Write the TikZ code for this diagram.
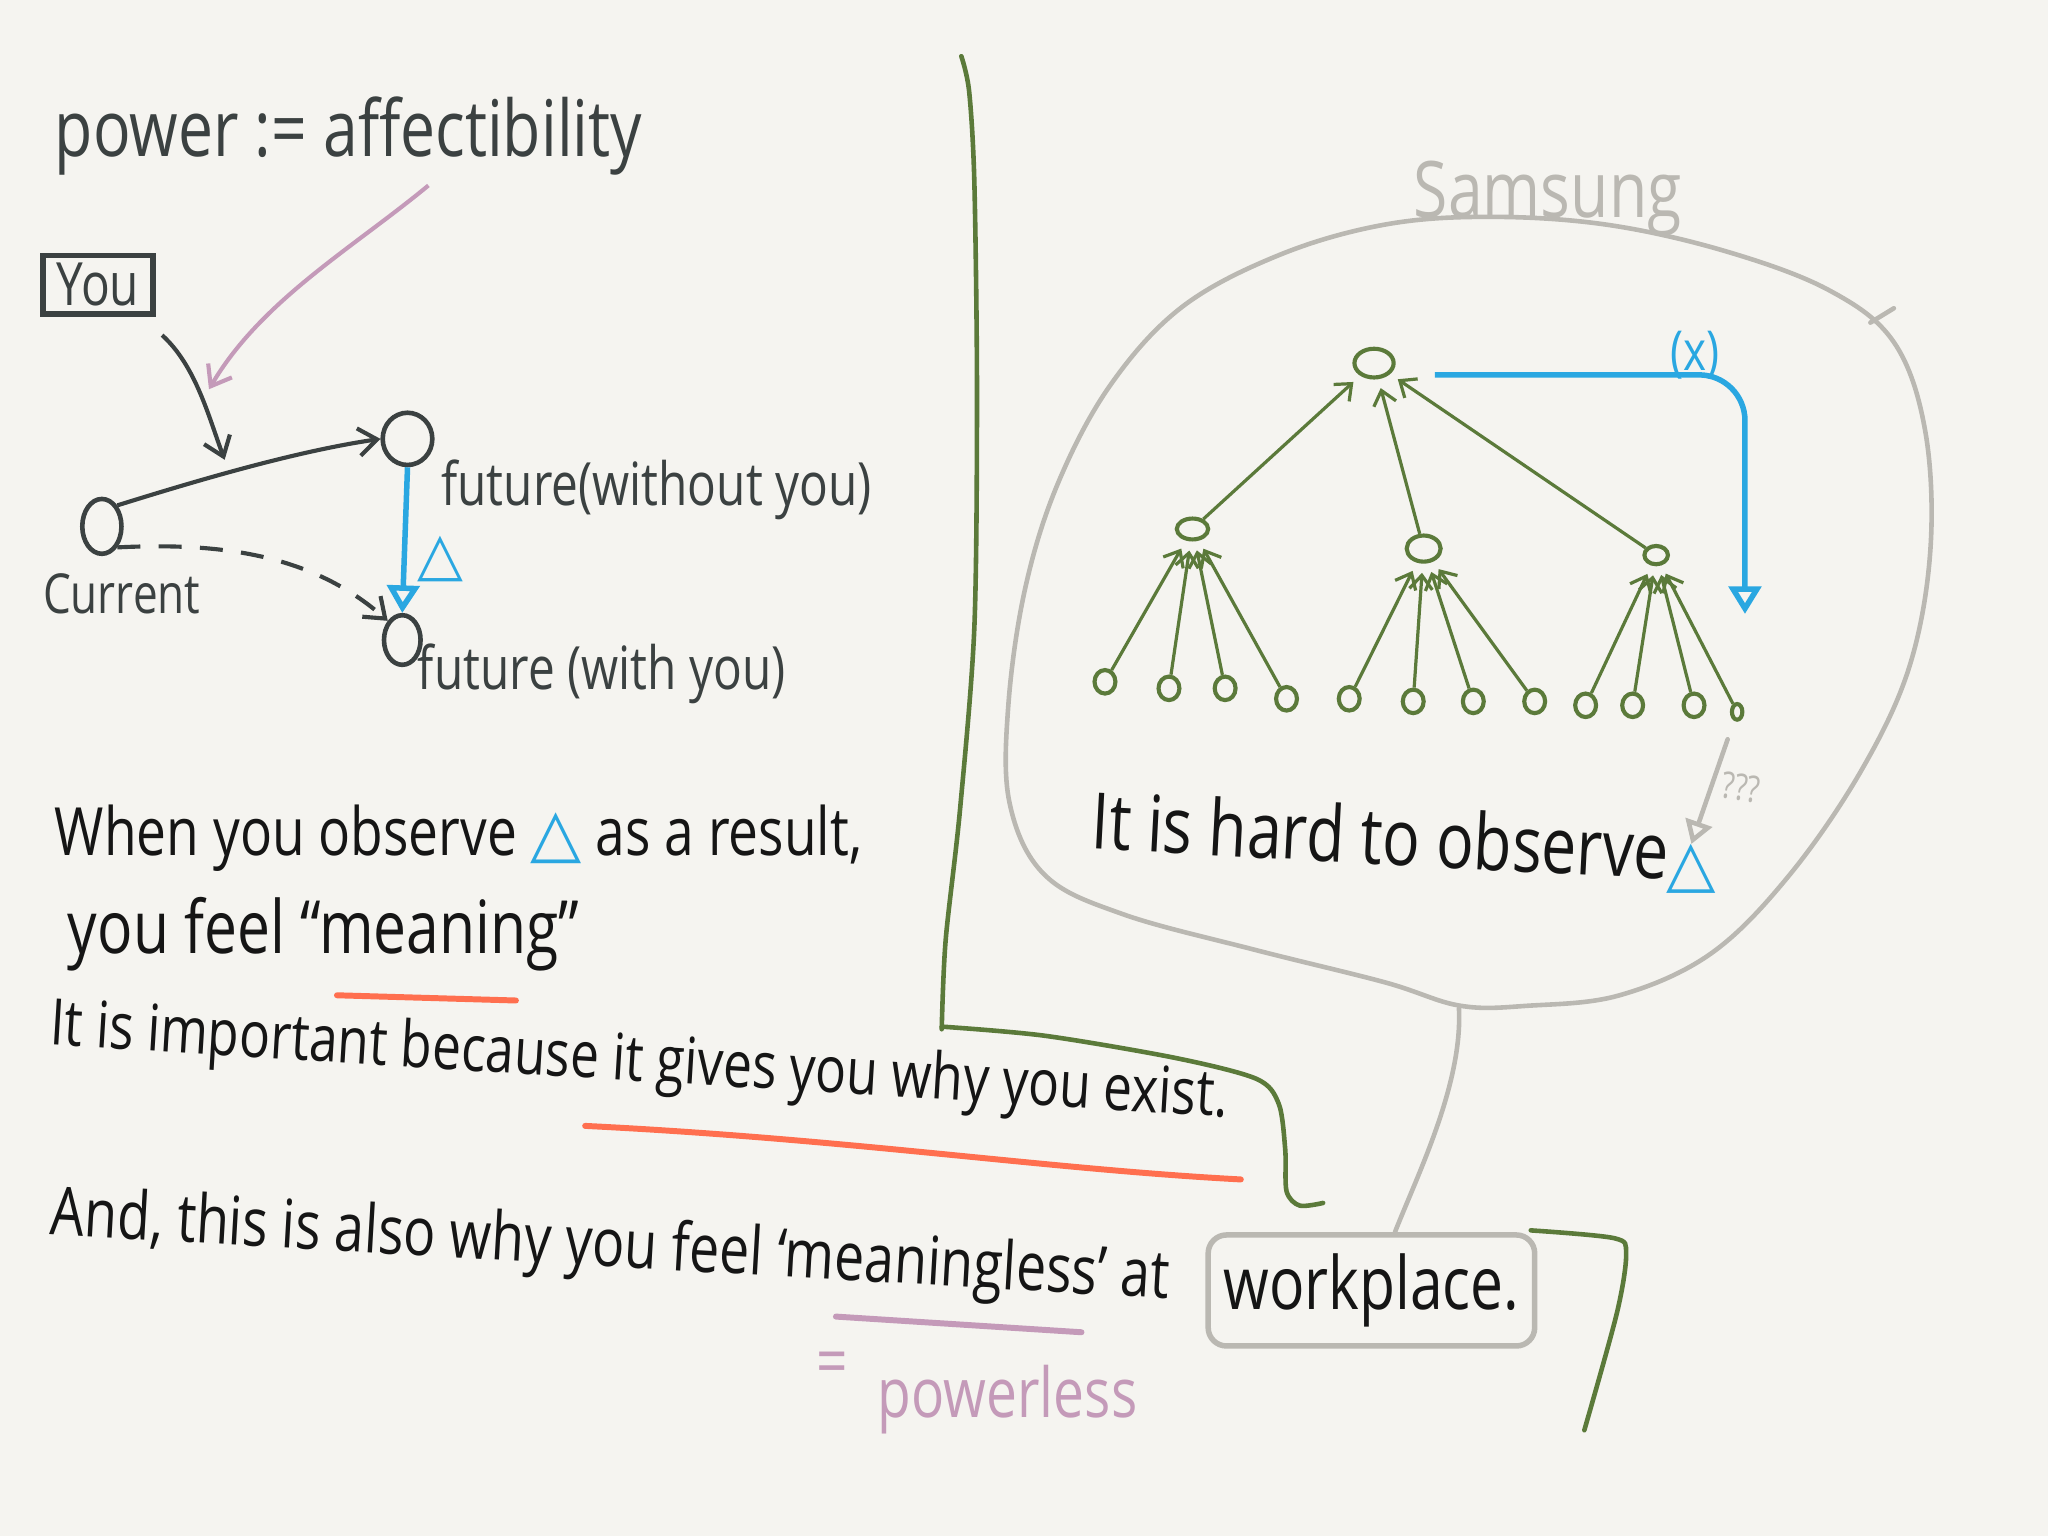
\documentclass[tikz,border=0pt]{standalone}
\usepackage{fontspec}
\setmainfont[FakeStretch=0.8]{Open Sans}
\newfontfamily\symfont{DejaVu Sans}
\usetikzlibrary{arrows.meta,shapes.geometric}

\definecolor{paper}{HTML}{F5F4F0}
\definecolor{pencil}{HTML}{3B4141}
\definecolor{inkblack}{HTML}{151515}
\definecolor{olive}{HTML}{5B7A3A}
\definecolor{skyblue}{HTML}{2AA7E1}
\definecolor{pebble}{HTML}{BAB8B2}
\definecolor{mauve}{HTML}{C49AB9}
\definecolor{coral}{HTML}{FF6F4F}

\newcommand{\fsz}[1]{\fontsize{#1}{#1}\selectfont}
\newcommand{\tri}{{\color{skyblue}\symfont △}}

\tikzset{
  hand/.style={inner sep=0pt, outer sep=0pt},
  state/.style={draw=pencil, ellipse, line width=1pt, inner sep=0pt},
  treenode/.style={draw=olive, ellipse, line width=0.9pt, inner sep=0pt,
    minimum width=1.6mm, minimum height=1.8mm},
  treeedge/.style={olive, line width=0.7pt, shorten >=2pt,
    -{Straight Barb[length=3pt,width=5pt]}},
  pencilarrow/.style={pencil, line width=0.9pt,
    -{Straight Barb[length=4pt,width=6pt]}},
  bluearrow/.style={skyblue, line width=1.2pt,
    -{Triangle[open,length=6pt,width=7pt]}},
  blobline/.style={pebble, line width=1pt, line cap=round},
  greenline/.style={olive, line width=1pt, line cap=round},
  underline/.style={line width=1.3pt, line cap=round},
}

\begin{document}
\begin{tikzpicture}[x=0.1mm, y=-0.1mm]
  \fill[paper] (0,0) rectangle (1568,1176);
  \useasboundingbox (0,0) rectangle (1568,1176);

  % left: definition and the two futures
  \node[hand, text=pencil, font=\fsz{17}, anchor=base west] (power) at (42,120) {power := affectibility};
  \node[draw=pencil, line width=1.2pt, text=pencil, font=\fsz{13},
    minimum width=8.4mm, minimum height=4.5mm, inner sep=0pt] (you) at (75,218) {You};
  \node[state, minimum width=3mm, minimum height=4.2mm] (current) at (78,403) {};
  \node[state, minimum width=3.8mm, minimum height=4mm] (futwithout) at (312,336) {};
  \node[state, minimum width=2.8mm, minimum height=3.8mm] (futwith) at (308,490) {};
  \node[hand, text=pencil, font=\fsz{12}, anchor=base west] (currentlabel) at (33,470) {Current};
  \node[hand, text=pencil, font=\fsz{13}, anchor=base west] (withoutlabel) at (338,387) {future(without you)};
  \node[hand, text=pencil, font=\fsz{13}, anchor=base west] (withlabel) at (320,528) {future (with you)};
  \node[hand, font=\fsz{13}] (delta) at (337,428) {\tri};

  \coordinate (youhit) at (172,352);
  \coordinate (pinkstart) at (328,142);
  \coordinate (pinkhit) at (160,298);
  \draw[pencilarrow] ([xshift=0.5mm,yshift=-1.4mm]you.south east) .. controls (150,280) and (160,320) .. (youhit);
  \draw[pencilarrow, mauve] (pinkstart) .. controls (270,190) and (200,230) .. (pinkhit);
  \draw[pencilarrow] (current.north east) .. controls (160,365) and (230,345) .. (futwithout.west);
  \draw[pencilarrow, dashed, dash pattern=on 5pt off 4pt] (current.south east) .. controls (170,415) and (240,425) .. (futwith.north west);
  \draw[bluearrow] (futwithout.south) -- (futwith.north);

  % left: sentences
  \node[hand, text=inkblack, font=\fsz{14.5}, anchor=base west] (line1) at (42,655) {When you observe \tri{} as a result,};
  \node[hand, text=inkblack, font=\fsz{16}, anchor=base west] (line2) at (52,730) {you feel “meaning”};
  \node[hand, text=inkblack, font=\fsz{14}, anchor=base west, rotate=-3.5] (line3) at (38,800) {It is important because it gives you why you exist.};
  \node[hand, text=inkblack, font=\fsz{14.6}, anchor=base west, rotate=-3.3] (line4) at (38,945) {And, this is also why you feel ‘meaningless’ at};
  \node[draw=pebble, line width=1.2pt, rounded corners=4pt, text=inkblack, font=\fsz{16},
    minimum width=25mm, minimum height=8.5mm, inner sep=0pt] (workplace) at (1050,988) {workplace.};
  \node[hand, text=mauve, font=\fsz{15}] (eqsign) at (637,1048) {=};
  \node[hand, text=mauve, font=\fsz{15}, anchor=base west] (powerless) at (672,1085) {powerless};
  \draw[underline, coral] (258,762) -- (395,766);
  \draw[underline, coral] (448,862) .. controls (650,872) and (800,895) .. (950,903);
  \draw[underline, mauve] (640,1008) -- (828,1020);

  % divider and brackets
  \draw[greenline] plot[smooth] coordinates {(736,43) (742,70) (746,140) (748,300) (746,480) (735,620) (724,720) (721,788)};
  \draw[greenline] plot[smooth] coordinates {(721,786) (800,793) (900,810) (962,826) (979,845) (984,880) (985,912) (995,923) (1013,921)};
  \draw[greenline] plot[smooth] coordinates {(1172,942) (1236,948) (1245,960) (1238,1005) (1213,1095)};

  % right: Samsung boundary
  \node[hand, text=pebble, font=\fsz{17}] (samsung) at (1185,152) {Samsung};
  \draw[blobline] plot[smooth cycle, tension=0.6] coordinates {(1118,770) (1060,752) (960,727) (860,700) (800,670) (773,615) (772,540) (785,450) (810,370) (850,295) (905,235) (980,195) (1060,172) (1140,166) (1230,172) (1320,192) (1400,222) (1450,262) (1474,330) (1478,420) (1462,510) (1425,590) (1370,670) (1310,730) (1240,762) (1170,770)};
  \draw[blobline] (1432,247) -- (1450,236);
  \draw[blobline] (1117,772) .. controls (1120,830) and (1085,900) .. ([xshift=1.8mm]workplace.north);

  % right: tree
  \node[treenode, minimum width=3mm, minimum height=2.2mm] (root) at (1052,278) {};
  \node[treenode, minimum width=2.4mm, minimum height=1.6mm] (midl) at (913,405) {};
  \node[treenode, minimum width=2.6mm, minimum height=2mm] (midc) at (1090,420) {};
  \node[treenode, minimum width=1.8mm, minimum height=1.4mm] (midr) at (1268,425) {};
  \foreach \n/\x/\y in {1/846/522, 2/895/527, 3/938/527, 4/985/535, 5/1033/535, 6/1082/537,
                        7/1128/537, 8/1175/537, 9/1214/540, 10/1250/540, 11/1297/540}
    \node[treenode] (leaf\n) at (\x,\y) {};
  \node[treenode, minimum width=0.8mm, minimum height=1.2mm] (leaf12) at (1330,545) {};
  \foreach \n in {1,...,4} \draw[treeedge] (leaf\n) -- (midl);
  \foreach \n in {5,...,8} \draw[treeedge] (leaf\n) -- (midc);
  \foreach \n in {9,...,12} \draw[treeedge] (leaf\n) -- (midr);
  \foreach \n in {midl,midc,midr} \draw[treeedge] (\n) -- (root);

  \coordinate (xend) at (1336,470);
  \draw[bluearrow, rounded corners=10pt] ([xshift=3mm,yshift=-0.9mm]root.east) -| (xend);
  \node[hand, text=skyblue, font=\fsz{12}] (xlabel) at (1298,272) {(x)};

  \node[hand, text=inkblack, font=\fsz{17}, anchor=base west, rotate=-3] (hardline) at (835,650) {It is hard to observe};
  \node[hand, font=\fsz{14}] (obsdelta) at (1295,665) {\tri};
  \draw[blobline, shorten <=1.5mm, -{Triangle[open,length=5pt,width=6pt]}] (leaf12) -- (obsdelta.north);
  \node[hand, text=pebble, font=\fsz{8}, rotate=-8] (unknown) at (1333,603) {???};
\end{tikzpicture}
\end{document}
